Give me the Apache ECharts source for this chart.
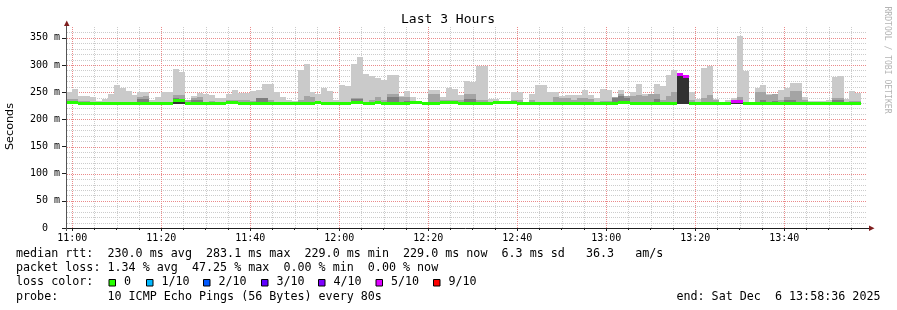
<!DOCTYPE html>
<html><head><meta charset="utf-8">
<script src="https://cdn.jsdelivr.net/npm/echarts@6/dist/echarts.min.js"></script>
<style>html,body{margin:0;padding:0;background:#fff}#c{width:897px;height:310px}</style>
</head><body><div id="c"></div>
<script>
// ---------------- data ----------------
const chartTitle = 'Last 3 Hours';
const yAxisTitle = 'Seconds';
const watermark = 'RRDTOOL / TOBI OETIKER';
const windowStart = '10:58:36';
const windowEnd = '13:58:36';
const firstStep = '10:58:40';
const stepSeconds = 80;
const xTickLabels = ['11:00','11:20','11:40','12:00','12:20','12:40','13:00','13:20','13:40'];
const yTickValues = [0, 50, 100, 150, 200, 250, 300, 350];
const yTickLabels = ['0  ', '50 m', '100 m', '150 m', '200 m', '250 m', '300 m', '350 m'];
const yMaxMs = 370;
const smokeBase = 228.5; // ms, lowest ping
// top of each smoke band per 80 s step (ms)
const smokeMax = [250,256,243,243,241,234.5,237.6,246.8,263.4,258.5,
 252.3,245,251,251,235.7,241,250.5,250.5,292.8,286.7,
 234.5,243.8,248.6,246.2,244.4,240,240,247.4,254,249.2,
 249.2,252.3,254,265,265,250,240.7,235.7,234.5,291,
 302,250,247,258.4,252.3,235.7,263.4,261.5,302,315,
 283.6,280,275.7,272.6,281.8,281.8,243,252.3,241.8,232.7,
 231,254,254,241,258.4,255.4,245,271.4,268.9,298.9,
 298.9,238.2,238,232.7,234.5,250,250,232.7,246.8,264,
 264,250,250,243,245,244,244,254,245,240,
 255.4,254,240,254,243.8,250,265,246.8,245,265,
 260.9,281.2,291,286,281,250,237.6,294,298.3,237,
 232.7,235.7,238.8,354,289.8,231,258.4,263.4,247.4,246.8,
 254,258.4,266.2,267.4,240.7,233.9,233.9,234.5,235.7,278.7,
 279.9,237.6,252.3,249.2];
const smokeMid = [237,237.6,233.9,233.9,232.7,232,232,232,232,232,
 232.7,232.7,241.8,243,232.7,232.7,232.7,232.7,245,245,
 235.7,240,241.8,232.7,233.9,232,232,235.7,235.7,235.7,
 235.7,233.9,240,240,235,232.7,232,232,232,235.7,
 243,241.8,234.5,231.5,231.5,231,231,231,239.4,239.4,
 232.7,236.4,241.8,236.4,246.8,246.8,241.8,241.8,233.9,231,
 231,247.4,247.4,235.7,235.7,235.7,235.7,246,246,235.7,
 235.7,232.7,230,231,231,235.7,235.7,231,235.7,232.7,
 232.7,232.7,241,240,240,235.7,238.8,238.8,237.6,232.7,
 233.9,233.9,241.8,246.8,243,243.8,245,243.8,246.8,246.8,
 235.7,243,250,250,250,235.7,232.7,240,245,235.7,
 232.7,232,232,241.8,232.7,230,250,250,245,246.2,
 235.7,241.8,252,252,235.7,232.7,232.7,232.7,232.7,240,
 240,232.7,233.9,233.9];
const smokeDark = [null,null,null,null,null,null,null,null,null,null,
 null,null,237,237,null,null,null,null,240,238,
 null,236,236,null,null,null,null,null,null,null,
 null,null,240,240,null,null,null,null,null,null,
 null,null,null,null,null,null,null,null,237,237,
 null,232.7,232.7,null,240.7,240.7,null,233.9,null,null,
 null,null,null,null,null,null,null,237.6,237.6,232.7,
 232.7,null,null,null,null,null,null,null,null,231.5,
 231.5,null,null,null,null,null,null,null,null,null,
 null,null,240,243,240,null,null,null,null,237.6,
 null,null,null,null,null,null,null,null,null,null,
 null,null,null,null,null,null,232.7,235.7,null,233,
 null,236,236,null,null,null,null,null,null,235.7,
 235.7,null,null,null];
const smokeCore = [null,null,null,null,null,null,null,null,null,null,
 null,null,null,null,null,null,null,null,237.6,237.6,
 null,null,null,null,null,null,null,null,null,null,
 null,null,null,null,null,null,null,null,null,null,
 null,null,null,null,null,null,null,null,null,null,
 null,null,null,null,null,null,null,null,null,null,
 null,null,null,null,null,null,null,null,null,null,
 null,null,null,null,null,null,null,null,null,null,
 null,null,null,null,null,null,null,null,null,null,
 null,null,null,null,null,null,null,null,null,null,
 null,null,null,286,281,null,null,null,null,null,
 null,null,236.5,236.5,null,null,null,null,null,null,
 null,null,null,null,null,null,null,null,null,null,
 null,null,null,null];
const medianRtt = [231,231,229,229,229,229,229,229,229,229,
 229,229,229,229,229,229,229,229,234,234,
 229,229,229,229,229,229,229,231,231,229,
 229,229,229,229,229,229,229,229,229,229,
 229,229,230.5,229,229,229,229,229,231,231,
 229,229,230.5,229,229,229,229,229,231,230.5,
 229,229,229,231,231,231,229,229,229,229,
 229,229,230.5,230.5,230.5,230.5,229,229,229,229,
 229,229,229,229,229,229,229,229,229,229,
 229,229,229,231,231,229,229,229,229,229,
 229,229,229,283.1,279,229,229,229,229,229,
 229,229,233.5,233.5,229,229,229,229,229,229,
 229,229,229,229,229,229,229,229,229,229,
 229,229,229,229];
const lossCount = [0,0,0,0,0,0,0,0,0,0, 0,0,0,0,0,0,0,0,0,0,
 0,0,0,0,0,0,0,0,0,0, 0,0,0,0,0,0,0,0,0,0,
 0,0,0,0,0,0,0,0,0,0, 0,0,0,0,0,0,0,0,0,0,
 0,0,0,0,0,0,0,0,0,0, 0,0,0,0,0,0,0,0,0,0,
 0,0,0,0,0,0,0,0,0,0, 0,0,0,0,0,0,0,0,0,0,
 0,0,0,5,5,0,0,0,0,0, 0,0,5,5,0,0,0,0,0,0,
 0,0,0,0,0,0,0,0,0,0, 0,0,0,0];
const lossThresholds = [0, 1, 2, 3, 4, 5, 9];
const lossLabels = ['0', '1/10', '2/10', '3/10', '4/10', '5/10', '9/10'];
const lossColors = ['#26ff00', '#00b8ff', '#0059ff', '#5e00ff', '#7e00ff', '#dd00ff', '#ff0000'];
const smokeColors = ['#cacaca', '#a4a4a4', '#7e7e7e', '#323232'];
const legendLines = [
  'median rtt:  230.0 ms avg  283.1 ms max  229.0 ms min  229.0 ms now  6.3 ms sd   36.3   am/s',
  'packet loss: 1.34 % avg  47.25 % max  0.00 % min  0.00 % now'
];
const lossLegendTitle = 'loss color:';
const probeLine = 'probe:       10 ICMP Echo Pings (56 Bytes) every 80s';
const endLine = 'end: Sat Dec  6 13:58:36 2025';

// ---------------- chart ----------------
const toMin = s => { const p = s.split(':').map(Number); return p[0] * 60 + p[1] + (p[2] || 0) / 60; };
const xMin = toMin(windowStart), xMax = toMin(windowEnd);
const t0 = toMin(firstStep), stepMin = stepSeconds / 60;
const majorX = xTickLabels.map(toMin);
const minorX = [];
for (let v = Math.ceil(xMin / 5) * 5; v <= xMax; v += 5) if (!majorX.includes(v)) minorX.push(v);
const minorY = [];
for (let v = 10; v < yMaxMs; v += 10) if (v % 50 !== 0) minorY.push(v);
const majorY = yTickValues.filter(v => v > 0);
const lossColor = n => { let c = lossColors[0]; lossThresholds.forEach((t, k) => { if (n >= t) c = lossColors[k]; }); return c; };

const smokeData = smokeMax.map((v, i) => [t0 + i * stepMin, t0 + (i + 1) * stepMin, smokeBase, v, smokeMid[i], smokeDark[i], smokeCore[i]]);
const medianData = medianRtt.map((v, i) => [t0 + i * stepMin, t0 + (i + 1) * stepMin, v, lossCount[i]]);

const MONO = '"DejaVu Sans Mono", "Liberation Mono", monospace';
const gridCol = '#cccccc', mgridCol = '#ea8a8a', axisCol = '#1f1f1f', arrowCol = '#7f1f1f';

// grid line specs: [orientation (0 = vertical, 1 = horizontal), value, major?]
const gridSpec = [];
minorX.forEach(v => gridSpec.push([0, v, 0]));
minorY.forEach(v => gridSpec.push([1, v, 0]));
majorX.forEach(v => gridSpec.push([0, v, 1]));
majorY.forEach(v => gridSpec.push([1, v, 1]));

const chart = echarts.init(document.getElementById('c'), null, { renderer: 'canvas', width: 897, height: 310 });

const xCommon = { type: 'value', min: xMin, max: xMax, position: 'bottom', offset: 0, axisLine: { show: false }, splitLine: { show: false } };
const yCommon = { type: 'value', min: 0, max: yMaxMs, position: 'left', offset: 0, axisLine: { show: false }, splitLine: { show: false } };

const boxXs = [108.5, 146, 203, 261, 318, 375.5, 433];
const graphics = [
  { type: 'text', x: 448, y: 19.5, z: 10, style: { text: chartTitle, font: '13px ' + MONO, fill: '#000', align: 'center', verticalAlign: 'middle' } },
  { type: 'text', x: 10.5, y: 126.5, rotation: Math.PI / 2, z: 10, style: { text: yAxisTitle, font: '11.2px "DejaVu Sans", sans-serif', fill: '#000', align: 'center', verticalAlign: 'middle' } },
  { type: 'text', x: 887.5, y: 60, rotation: -Math.PI / 2, z: 10, style: { text: watermark, font: '8.1px ' + MONO, fill: '#b4b4b4', align: 'center', verticalAlign: 'middle' } },
  { type: 'line', z: 20, shape: { x1: 62, y1: 228.5, x2: 869, y2: 228.5 }, style: { stroke: axisCol, lineWidth: 1 } },
  { type: 'line', z: 20, shape: { x1: 66.5, y1: 24, x2: 66.5, y2: 231 }, style: { stroke: '#555', lineWidth: 1 } },
  { type: 'polygon', z: 21, shape: { points: [[64, 26], [69.5, 26], [66.75, 20.5]] }, style: { fill: arrowCol } },
  { type: 'polygon', z: 21, shape: { points: [[869, 225.5], [869, 231], [874.5, 228.25]] }, style: { fill: arrowCol } },
];
const rowY = [254, 268.2, 282.4, 296.6];
legendLines.forEach((t, k) => graphics.push({ type: 'text', x: 16, y: rowY[k], style: { text: t, font: '11.7px ' + MONO, fill: '#000', verticalAlign: 'middle' } }));
graphics.push({ type: 'text', x: 16, y: rowY[2], style: { text: lossLegendTitle, font: '11.7px ' + MONO, fill: '#000', verticalAlign: 'middle' } });
lossLabels.forEach((lab, k) => {
  graphics.push({ type: 'rect', shape: { x: boxXs[k] + 0.5, y: 279.5, width: 6.5, height: 6.5 }, style: { fill: lossColors[k], stroke: '#000', lineWidth: 1 } });
  graphics.push({ type: 'text', x: boxXs[k] + 15.5, y: rowY[2], style: { text: lab, font: '11.7px ' + MONO, fill: '#000', verticalAlign: 'middle' } });
});
graphics.push({ type: 'text', x: 16, y: rowY[3], style: { text: probeLine, font: '11.7px ' + MONO, fill: '#000', verticalAlign: 'middle' } });
graphics.push({ type: 'text', x: 880.5, y: rowY[3], style: { text: endLine, font: '11.7px ' + MONO, fill: '#000', align: 'right', verticalAlign: 'middle' } });

chart.setOption({
  animation: false,
  backgroundColor: '#ffffff',
  grid: { left: 66, top: 27, width: 801, height: 201, containLabel: false, outerBoundsMode: 'none' },
  xAxis: [
    Object.assign({}, xCommon, {
      axisTick: { show: true, customValues: majorX, length: 3, lineStyle: { color: axisCol } },
      axisLabel: { show: true, customValues: majorX, margin: 5, formatter: v => xTickLabels[majorX.indexOf(v)], fontFamily: MONO, fontSize: 10, color: '#000' }
    }),
    Object.assign({}, xCommon, {
      axisTick: { show: true, customValues: minorX, length: 2, lineStyle: { color: axisCol } },
      axisLabel: { show: false }
    })
  ],
  yAxis: [
    Object.assign({}, yCommon, {
      axisTick: { show: true, customValues: yTickValues, length: 4, lineStyle: { color: axisCol } },
      axisLabel: { show: true, customValues: yTickValues, margin: 6, formatter: v => yTickLabels[yTickValues.indexOf(v)], fontFamily: MONO, fontSize: 10, color: '#000' }
    })
  ],
  series: [
    {
      type: 'custom', name: 'grid', z: 1, clip: false, silent: true, xAxisIndex: 0, yAxisIndex: 0,
      data: gridSpec.map((g, i) => [i]),
      encode: { x: -1, y: -1 },
      renderItem: (params, api) => {
        const g = gridSpec[params.dataIndex];
        const color = g[2] ? mgridCol : gridCol;
        if (g[0] === 0) {
          const p0 = api.coord([g[1], 0]), p1 = api.coord([g[1], yMaxMs]);
          const x = Math.round(p0[0]) + 0.5;
          return { type: 'line', shape: { x1: x, y1: Math.round(p1[1]), x2: x, y2: Math.round(p0[1]) }, style: { stroke: color, lineWidth: 1, lineDash: [1, 1] } };
        }
        const p0 = api.coord([xMin, g[1]]), p1 = api.coord([xMax, g[1]]);
        const y = Math.round(p0[1]) + 0.5;
        return { type: 'line', shape: { x1: Math.round(p0[0]) + 1, y1: y, x2: Math.round(p1[0]), y2: y }, style: { stroke: color, lineWidth: 1, lineDash: [1, 1] } };
      }
    },
    {
      type: 'custom', name: 'smoke', z: 3, clip: true, xAxisIndex: 0, yAxisIndex: 0,
      encode: { x: [0, 1], y: [3] },
      data: smokeData,
      renderItem: (params, api) => {
        const a = api.value(0), b = api.value(1), base = api.value(2);
        const children = [];
        [3, 4, 5, 6].forEach((d, k) => {
          const top = api.value(d);
          if (!(top > base)) return;
          const p0 = api.coord([a, top]), p1 = api.coord([b, base]);
          const x0 = Math.round(p0[0]), x1 = Math.round(p1[0]);
          const y0 = Math.round(p0[1]), y1 = Math.round(p1[1]);
          children.push({ type: 'rect', shape: { x: x0, y: y0, width: x1 - x0, height: y1 - y0 }, style: { fill: smokeColors[k] } });
        });
        return { type: 'group', children };
      }
    },
    {
      type: 'custom', name: 'median rtt', z: 6, clip: true, xAxisIndex: 0, yAxisIndex: 0,
      encode: { x: [0, 1], y: [2] },
      data: medianData,
      renderItem: (params, api) => {
        const a = api.value(0), b = api.value(1), m = api.value(2), n = api.value(3);
        const p0 = api.coord([a, m]), p1 = api.coord([b, m]);
        const x0 = Math.round(p0[0]), x1 = Math.round(p1[0]);
        const yc = Math.round(p0[1] - 1.5);
        return { type: 'rect', shape: { x: x0, y: yc, width: x1 - x0, height: 3 }, style: { fill: lossColor(n) } };
      }
    }
  ],
  graphic: graphics
});
</script>
</body></html>
